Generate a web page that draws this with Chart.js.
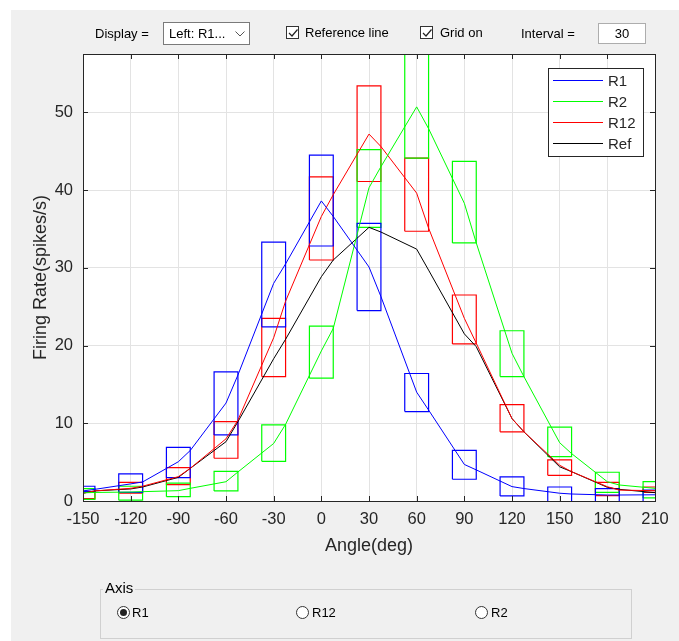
<!DOCTYPE html>
<html>
<head>
<meta charset="utf-8">
<script src="https://cdn.jsdelivr.net/npm/chart.js@4.4.1/dist/chart.umd.min.js"></script>
<style>
html, body { margin: 0; padding: 0; background: #ffffff; overflow: hidden; }
#panel { position: absolute; left: 11px; top: 10px; width: 668px; height: 631px; background: #f0f0f0; }
#plot { position: absolute; left: 0; top: 0; }
.ui { position: absolute; font-family: 'Liberation Sans', Arial, sans-serif; font-size: 13px; color: #000; line-height: 15px; white-space: nowrap; }
.box { position: absolute; background: #fff; box-sizing: border-box; }
.check { position: absolute; width: 13px; height: 13px; box-sizing: border-box; border: 1px solid #333; background: #fff; }
.radio { position: absolute; width: 13px; height: 13px; box-sizing: border-box; border: 1px solid #333; border-radius: 50%; background: #fff; }
.radio.on::after { content: ''; position: absolute; left: 2px; top: 2px; width: 7px; height: 7px; border-radius: 50%; background: #222; }
</style>
</head>
<body>
<div id="panel"></div>
<canvas id="plot" width="679" height="641"></canvas>

<!-- toolbar -->
<div class="ui" style="left:95px; top:26px;">Display =</div>
<div class="box" style="left:163px; top:22px; width:87px; height:23px; border:1px solid #7a7a7a;">
  <div class="ui" style="left:5px; top:3px;">Left: R1...</div>
  <svg style="position:absolute; left:71px; top:8px;" width="10" height="6"><polyline points="0.5,0.5 5,5 9.5,0.5" fill="none" stroke="#555" stroke-width="1"/></svg>
</div>
<div class="check" style="left:286px; top:26px;"><svg style="position:absolute;left:1px;top:1px" width="10" height="10"><polyline points="1,5 4,8 9.5,1.5" fill="none" stroke="#222" stroke-width="1.2"/></svg></div>
<div class="ui" style="left:305px; top:25px;">Reference line</div>
<div class="check" style="left:420px; top:26px;"><svg style="position:absolute;left:1px;top:1px" width="10" height="10"><polyline points="1,5 4,8 9.5,1.5" fill="none" stroke="#222" stroke-width="1.2"/></svg></div>
<div class="ui" style="left:440px; top:25px;">Grid on</div>
<div class="ui" style="left:521px; top:26px;">Interval =</div>
<div class="box" style="left:598px; top:23px; width:48px; height:21px; border:1px solid #adadad;">
  <div class="ui" style="left:0; width:46px; top:2px; text-align:center;">30</div>
</div>

<!-- bottom radio group -->
<div style="position:absolute; left:100px; top:589px; width:532px; height:50px; box-sizing:border-box; border:1px solid #d0d0d0;"></div>
<div class="ui" style="left:103px; top:580px; font-size:15px; background:#f0f0f0; padding:0 2px;">Axis</div>
<div class="radio on" style="left:117px; top:606px;"></div>
<div class="ui" style="left:132px; top:605px;">R1</div>
<div class="radio" style="left:296px; top:606px;"></div>
<div class="ui" style="left:312px; top:605px;">R12</div>
<div class="radio" style="left:475px; top:606px;"></div>
<div class="ui" style="left:491px; top:605px;">R2</div>

<script>
// angles where the boxes sit
const ANGLES = [-150, -120, -90, -60, -30, 0, 30, 60, 90, 120, 150, 180, 210];

// angles of the curve vertices
const CURVE_ANGLES = [-150, -142.5, -120, -112.5, -90, -82.5, -60, -52.5, -30, -22.5, 0, 7.5,
    30, 37.5, 60, 67.5, 90, 97.5, 120, 127.5, 150, 157.5, 180, 187.5, 210];

const R1_CURVE = [1.3, 1.5, 2.2, 2.45, 5.05, 6.5, 12.6, 16.2, 28.0, 30.5, 38.6, 36.6,
    30.1, 26.3, 14.0, 11.7, 4.7, 4.0, 1.85, 1.6, 1.0, 0.9, 0.77, 0.77, 0.8];
const R2_CURVE = [1.05, 1.1, 1.15, 1.2, 1.33, 1.63, 2.48, 3.73, 7.4, 9.86, 19.3, 22.2,
    40.3, 43.0, 50.7, 47.9, 38.3, 33.2, 19.0, 16.0, 7.5, 6.1, 2.48, 2.06, 1.63];
const R12_CURVE = [1.0, 1.3, 1.63, 1.9, 3.13, 4.2, 8.0, 10.4, 21.0, 25.7, 36.6, 39.4,
    47.2, 45.6, 39.6, 35.1, 23.5, 20.3, 10.6, 8.9, 4.6, 3.77, 1.84, 1.4, 1.33];
const REF_CURVE = [1.0, 1.3, 1.55, 1.8, 3.04, 4.2, 7.63, 10.2, 18.3, 20.8, 28.85, 31.0,
    35.2, 34.6, 32.4, 29.7, 21.5, 19.85, 10.6, 8.9, 4.4, 3.77, 1.76, 1.5, 1.07];

// box bottoms and tops, one per angle
const R1_LOW = [1.2, 1.1, 3.0, 8.5, 22.4, 32.8, 24.5, 11.5, 2.8, 0.65, -0.3, -0.3, -0.3];
const R1_HIGH = [1.9, 3.5, 6.9, 16.6, 33.3, 44.5, 35.7, 16.4, 6.5, 3.1, 1.8, 1.6, 1.4];
const R2_LOW = [0.2, 0.1, 0.55, 1.3, 5.1, 15.8, 35.2, 44.1, 33.2, 16.0, 5.7, 1.1, 0.4];
const R2_HIGH = [1.6, 1.9, 2.3, 3.8, 9.8, 22.5, 45.2, 59.0, 43.7, 21.9, 9.5, 3.7, 2.5];
const R12_LOW = [0.3, 1.0, 2.1, 5.5, 16.0, 31.0, 41.1, 34.7, 20.2, 8.9, 3.3, 0.7, 1.1];
const R12_HIGH = [1.2, 2.4, 4.3, 10.2, 23.5, 41.7, 53.4, 44.1, 26.5, 12.4, 5.3, 2.4, 1.8];

const BOX_HALF = 7.5;
const AXIS_COLOR = '#262626';
const TICK_LEN = 5;
const FONT = "'Liberation Sans', Arial, sans-serif";

function curve(values) {
    return CURVE_ANGLES.map((a, i) => ({ x: a, y: values[i] }));
}

// every box is a closed outline, boxes are split by a null point
function boxes(lows, highs) {
    let pts = [];
    ANGLES.forEach((a, i) => {
        const l = a - BOX_HALF, r = a + BOX_HALF;
        pts.push({ x: l, y: lows[i] }, { x: l, y: highs[i] }, { x: r, y: highs[i] },
            { x: r, y: lows[i] }, { x: l, y: lows[i] }, { x: a, y: null });
    });
    return pts;
}

function lineSet(label, values, color, order) {
    return { label: label, data: curve(values), borderColor: color, borderWidth: 1,
        pointRadius: 0, fill: false, tension: 0, clip: 0, order: order };
}

function boxSet(label, lows, highs, color, order) {
    return { label: label, isBox: true, data: boxes(lows, highs), borderColor: color, borderWidth: 1.2,
        pointRadius: 0, fill: false, tension: 0, spanGaps: false, clip: 0, order: order };
}

const framePlugin = {
    id: 'frame',
    beforeDraw(chart) {
        const { ctx, chartArea: a } = chart;
        ctx.save();
        ctx.fillStyle = '#ffffff';
        ctx.fillRect(a.left, a.top, a.right - a.left, a.bottom - a.top);
        ctx.restore();
    },
    afterDatasetsDraw(chart) {
        const { ctx, chartArea: a, scales } = chart;
        ctx.save();
        ctx.strokeStyle = AXIS_COLOR;
        ctx.lineWidth = 1;
        ctx.beginPath();
        scales.x.ticks.forEach(t => {
            const px = Math.round(scales.x.getPixelForValue(t.value)) + 0.5;
            ctx.moveTo(px, a.bottom); ctx.lineTo(px, a.bottom - TICK_LEN);
            ctx.moveTo(px, a.top); ctx.lineTo(px, a.top + TICK_LEN);
        });
        scales.y.ticks.forEach(t => {
            const py = Math.round(scales.y.getPixelForValue(t.value)) + 0.5;
            ctx.moveTo(a.left, py); ctx.lineTo(a.left + TICK_LEN, py);
            ctx.moveTo(a.right, py); ctx.lineTo(a.right - TICK_LEN, py);
        });
        ctx.stroke();
        ctx.strokeRect(a.left + 0.5, a.top + 0.5, a.right - a.left, a.bottom - a.top);
        ctx.restore();
    },
    afterDraw(chart) {
        // legend box in the upper right of the axes
        const { ctx, chartArea: a } = chart;
        const items = chart.data.datasets.filter(d => !d.isBox);
        const left = a.right - 107, top = a.top + 14, w = 95, rowH = 21;
        ctx.save();
        ctx.fillStyle = '#ffffff';
        ctx.fillRect(left, top, w, rowH * items.length + 4);
        ctx.strokeStyle = AXIS_COLOR;
        ctx.lineWidth = 1;
        ctx.strokeRect(left + 0.5, top + 0.5, w, rowH * items.length + 4);
        ctx.font = '15px ' + FONT;
        ctx.textBaseline = 'middle';
        items.forEach((d, i) => {
            const y = Math.round(top + 12 + i * rowH) + 0.5;
            ctx.strokeStyle = d.borderColor;
            ctx.beginPath();
            ctx.moveTo(left + 5, y); ctx.lineTo(left + 55, y);
            ctx.stroke();
            ctx.fillStyle = AXIS_COLOR;
            ctx.fillText(d.label, left + 60, y + 1);
        });
        ctx.restore();
    }
};

new Chart(document.getElementById('plot'), {
    type: 'line',
    data: {
        datasets: [
            lineSet('R1', R1_CURVE, '#0000ff', 1),
            lineSet('R2', R2_CURVE, '#00ff00', 2),
            lineSet('R12', R12_CURVE, '#ff0000', 3),
            lineSet('Ref', REF_CURVE, '#000000', 4),
            boxSet('R1 box', R1_LOW, R1_HIGH, '#0000ff', 5),
            boxSet('R2 box', R2_LOW, R2_HIGH, '#00ff00', 6),
            boxSet('R12 box', R12_LOW, R12_HIGH, '#ff0000', 7)
        ]
    },
    options: {
        responsive: false,
        animation: false,
        events: [],
        layout: { padding: { left: 0, top: 54, right: 24, bottom: 0 } },
        plugins: { legend: { display: false }, tooltip: { enabled: false } },
        scales: {
            x: {
                type: 'linear',
                min: -150,
                max: 210,
                afterFit: s => { s.height = 140; },
                grid: { color: '#e3e3e3', drawTicks: false },
                border: { display: false },
                ticks: { stepSize: 30, autoSkip: false, maxRotation: 0, padding: 9,
                    color: AXIS_COLOR, font: { family: FONT, size: 16.5 } },
                title: { display: true, text: 'Angle(deg)', color: AXIS_COLOR,
                    font: { family: FONT, size: 18 }, padding: { top: 0, bottom: 84 } }
            },
            y: {
                min: 0,
                max: 57.5,
                afterFit: s => { s.width = 83; },
                grid: { color: '#e3e3e3', drawTicks: false },
                border: { display: false },
                ticks: { stepSize: 10, includeBounds: false, padding: 10,
                    color: AXIS_COLOR, font: { family: FONT, size: 16.5 } },
                title: { display: true, text: 'Firing Rate(spikes/s)', color: AXIS_COLOR,
                    font: { family: FONT, size: 18 }, padding: { top: 30, bottom: 0 } }
            }
        }
    },
    plugins: [framePlugin]
});
</script>
</body>
</html>
